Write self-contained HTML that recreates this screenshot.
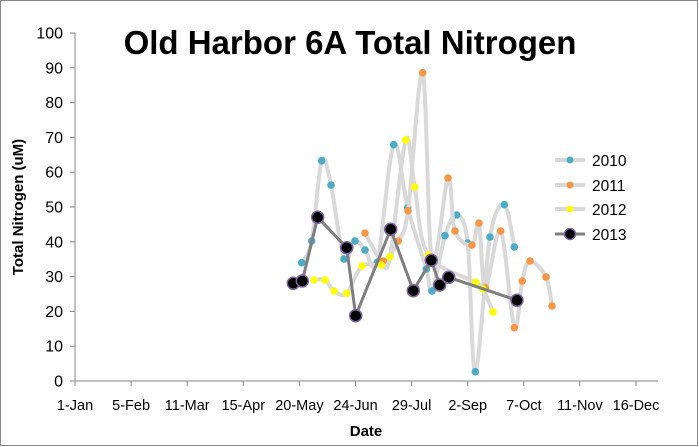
<!DOCTYPE html>
<html><head><meta charset="utf-8"><style>
html,body{margin:0;padding:0;background:#fff;}
svg{display:block;font-family:"Liberation Sans",sans-serif;}
</style></head><body>
<svg id="s" width="699" height="447" viewBox="0 0 699 447" xmlns="http://www.w3.org/2000/svg">
<rect x="0.5" y="0.5" width="697" height="445" fill="#fff" stroke="#888"/>
<text x="350" y="54" text-anchor="middle" font-size="33" font-weight="bold">Old Harbor 6A Total Nitrogen</text>
<g stroke="#868686" stroke-width="1" fill="none">
<line x1="75" y1="33" x2="75" y2="381"/>
<line x1="75" y1="381" x2="658" y2="381"/>
</g>
<g id="yt" font-size="16" text-anchor="end"></g>
<g id="xt" font-size="14.5" text-anchor="middle"></g>
<text transform="translate(23,207) rotate(-90)" text-anchor="middle" font-size="15" font-weight="bold">Total Nitrogen (uM)</text>
<text x="366" y="436" text-anchor="middle" font-size="15" font-weight="bold">Date</text>
<g id="plot"></g>
<g font-size="15.5">
<line x1="555" y1="160" x2="585" y2="160" stroke="#d9d9d9" stroke-width="4"/><circle cx="570" cy="160" r="3.5" fill="#4bacc6"/><text x="592" y="166">2010</text>
<line x1="555" y1="185" x2="585" y2="185" stroke="#d9d9d9" stroke-width="4"/><circle cx="570" cy="185" r="3.5" fill="#f79646"/><text x="592" y="191">2011</text>
<line x1="555" y1="209" x2="585" y2="209" stroke="#d9d9d9" stroke-width="4"/><circle cx="570" cy="209" r="3.5" fill="#ffff00"/><text x="592" y="215">2012</text>
<line x1="555" y1="234" x2="585" y2="234" stroke="#7f7f7f" stroke-width="3"/><circle cx="570" cy="234" r="5.5" fill="#000" stroke="#8064a2" stroke-width="1.5"/><text x="592" y="240">2013</text>
</g>
</svg>
<script>
var NS="http://www.w3.org/2000/svg";
function el(t,a,p){var e=document.createElementNS(NS,t);for(var k in a)e.setAttribute(k,a[k]);(p||document.getElementById('plot')).appendChild(e);return e;}
var yt=document.getElementById('yt');
for(var v=0;v<=100;v+=10){var y=381-v*3.48;el('line',{x1:70,y1:y,x2:75,y2:y,stroke:'#868686'},yt);var t=el('text',{x:63,y:y+5.5},yt);t.textContent=v;}
var xt=document.getElementById('xt');var labs=['1-Jan','5-Feb','11-Mar','15-Apr','20-May','24-Jun','29-Jul','2-Sep','7-Oct','11-Nov','16-Dec'];
for(var i=0;i<11;i++){var x=75+i*56.1;el('line',{x1:x,y1:381,x2:x,y2:386,stroke:'#868686'},xt);var t=el('text',{x:x,y:410},xt);t.textContent=labs[i];}
function cr(p){var d='M'+p[0][0]+','+p[0][1];for(var i=0;i<p.length-1;i++){var p0=p[i-1]||p[i],p1=p[i],p2=p[i+1],p3=p[i+2]||p2;var t=1/6;
d+=' C'+(p1[0]+(p2[0]-p0[0])*t)+','+(p1[1]+(p2[1]-p0[1])*t)+' '+(p2[0]-(p3[0]-p1[0])*t)+','+(p2[1]-(p3[1]-p1[1])*t)+' '+p2[0]+','+p2[1];}return d;}
var s10=[[301.7,262.7],[311.7,241],[321.7,160.7],[331,185],[344,259],[355,241],[365,250],[377.3,262.3],[393.7,144.7],[407.7,207.7],[426.3,269],[432,291],[445,235.7],[456.7,215],[467.7,243],[475.3,371.7],[490,237],[504.3,204.7],[514.3,247]];
var s11=[[365,233],[383.3,261],[398.3,241],[408,210.7],[422.7,72.7],[432,262],[448,178],[455,231],[472,245],[479,223],[485.3,287.7],[500.7,231],[514.3,327.7],[522.3,281],[530,261],[546,277],[552,306]];
var s12=[[314,280],[325,280],[334,291],[346.7,293.3],[362,266],[381.3,265],[390,256.7],[405.7,140],[414.7,187],[428.3,255],[475.7,282.3],[483,289],[493,312]];
var s13=[[293.3,283.3],[302.3,281],[317.7,217.3],[346.7,247.7],[355.7,315.7],[390.7,229.3],[413.3,290.7],[431.3,260.3],[439.7,285],[448.7,277.3],[517,300.3]];
[[s10,'#4bacc6'],[s11,'#f79646'],[s12,'#ffff00']].forEach(function(s){el('path',{d:cr(s[0]),fill:'none',stroke:'#d9d9d9','stroke-width':4,'stroke-linejoin':'round'});s[0].forEach(function(p){el('circle',{cx:p[0],cy:p[1],r:3.8,fill:s[1]});});});
el('path',{d:'M'+s13.map(function(p){return p.join(',')}).join(' L'),fill:'none',stroke:'#7f7f7f','stroke-width':3,'stroke-linejoin':'round'});
s13.forEach(function(p){el('circle',{cx:p[0],cy:p[1],r:6,fill:'#000',stroke:'#8064a2','stroke-width':1.5});});
</script>
</body></html>
